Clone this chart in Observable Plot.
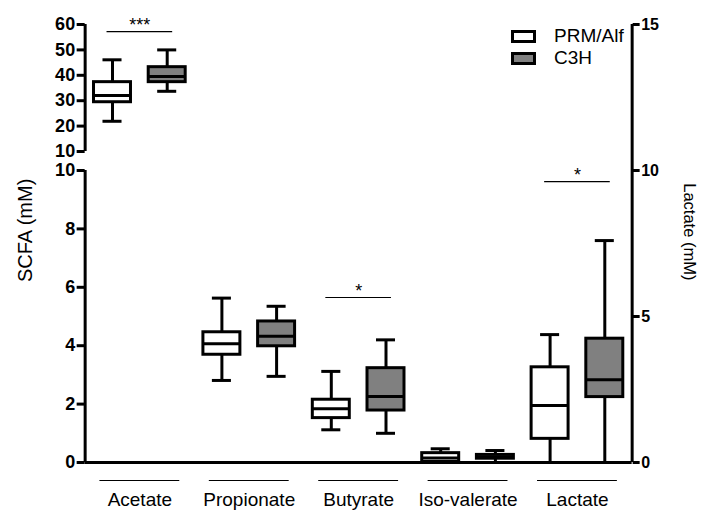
<!DOCTYPE html>
<html>
<head>
<meta charset="utf-8">
<script src="https://cdn.jsdelivr.net/npm/d3@7"></script>
<script src="https://cdn.jsdelivr.net/npm/@observablehq/plot@0.6"></script>
<style>
  html, body { margin: 0; padding: 0; background: #fff; }
  #wrap { position: relative; width: 701px; height: 511px; font-family: "Liberation Sans", Arial, sans-serif; }
  #wrap svg { position: absolute; left: 0; top: 0; }
  .legend { position: absolute; left: 511px; top: 25px; font-size: 19px; color: #000; }
  .legend .row { display: flex; align-items: center; height: 22px; }
  .legend .sw { width: 19px; height: 7px; border: 3px solid #000; margin-right: 18px; }
</style>
</head>
<body>
<div id="wrap"></div>
<script>
// ---- data ----
const categories = ["Acetate", "Propionate", "Butyrate", "Iso-valerate", "Lactate"];
const groups = ["PRM/Alf", "C3H"];
const groupFill = ["#ffffff", "#808080"];

// PRM/Alf box-plot statistics (Acetate on the upper, broken axis)
const prmLow  = [21.9, 2.81, 1.12, 0.00, 0.00];
const prmQ1   = [29.4, 3.69, 1.52, 0.02, 0.81];
const prmMed  = [32.0, 4.07, 1.84, 0.15, 1.95];
const prmQ3   = [37.3, 4.46, 2.15, 0.32, 3.26];
const prmHigh = [46.1, 5.63, 3.12, 0.47, 4.38];

// C3H box-plot statistics
const c3hLow  = [33.7, 2.95, 1.00, 0.00, 0.00];
const c3hQ1   = [37.3, 3.98, 1.78, 0.13, 2.24];
const c3hMed  = [39.5, 4.32, 2.26, 0.19, 2.83];
const c3hQ3   = [43.2, 4.83, 3.23, 0.26, 4.24];
const c3hHigh = [50.0, 5.35, 4.20, 0.41, 7.60];

// significance brackets
const sigCategories = ["Acetate", "Butyrate", "Lactate"];
const sigLabels = ["***", "*", "*"];
const sigLevels = [57.2, 5.65, 9.62];

// axis ticks
const upperTicks = [10, 20, 30, 40, 50, 60];
const lowerTicks = [0, 2, 4, 6, 8, 10];
const lactateTicks = [0, 5, 10, 15];

// ---- build table ----
const stats = [
  [prmLow, prmQ1, prmMed, prmQ3, prmHigh],
  [c3hLow, c3hQ1, c3hMed, c3hQ3, c3hHigh]
];
const rows = [];
categories.forEach((c, ci) => {
  groups.forEach((g, gi) => {
    const s = stats[gi];
    rows.push({cat: c, group: g, i: ci * 2 + gi, fill: groupFill[gi],
      lo: s[0][ci], q1: s[1][ci], med: s[2][ci], q3: s[3][ci], hi: s[4][ci]});
  });
});
const upperRows = rows.filter(d => d.cat === "Acetate");
const lowerRows = rows.filter(d => d.cat !== "Acetate");
const catRows = categories.map((c, ci) => ({cat: c, c: ci * 2 + 0.5}));
const sigRows = sigCategories.map((c, k) => ({cat: c, c: categories.indexOf(c) * 2 + 0.5, label: sigLabels[k], y: sigLevels[k]}));

const W = 701;
const xOpts = {type: "linear", domain: [-0.5, 9.5], axis: null};
const BW = 0.338, CW = 0.174;
const font = "Liberation Sans, Arial, sans-serif";

function boxMarks(data) {
  return [
    Plot.ruleX(data, {x: "i", y1: "lo", y2: "q1", strokeWidth: 3}),
    Plot.ruleX(data, {x: "i", y1: "q3", y2: "hi", strokeWidth: 3}),
    Plot.ruleY(data, {y: "lo", x1: d => d.i - CW, x2: d => d.i + CW, strokeWidth: 3}),
    Plot.ruleY(data, {y: "hi", x1: d => d.i - CW, x2: d => d.i + CW, strokeWidth: 3}),
    Plot.rect(data, {x1: d => d.i - BW, x2: d => d.i + BW, y1: "q1", y2: "q3", fill: "fill", stroke: "#000", strokeWidth: 3}),
    Plot.ruleY(data, {y: "med", x1: d => d.i - BW, x2: d => d.i + BW, strokeWidth: 3})
  ];
}
function sigMarks(data) {
  return [
    Plot.ruleY(data, {y: "y", x1: d => d.c - 0.6, x2: d => d.c + 0.6, strokeWidth: 1.2}),
    Plot.text(data, {x: "c", y: "y", text: "label", dy: -6, fontSize: 18, fontFamily: font})
  ];
}

// ---- lower plot (0-10 SCFA, 0-15 Lactate) ----
const lower = Plot.plot({
  width: W, height: 511,
  marginLeft: 84.65, marginRight: W - 631.65, marginTop: 24, marginBottom: 49,
  style: {background: "transparent", fontFamily: font, overflow: "visible"},
  x: xOpts,
  y: {domain: [0, 15], axis: null},
  marks: [
    Plot.axisY({anchor: "left", ticks: lowerTicks, tickSize: 8, tickPadding: 2, strokeWidth: 3,
      fontSize: 18, fontWeight: "bold", fontFamily: font, label: null}),
    Plot.axisY({anchor: "right", ticks: lactateTicks, tickSize: 7, tickPadding: 2, strokeWidth: 3,
      fontSize: 16, fontWeight: "bold", fontFamily: font, label: null}),
    Plot.ruleX([-0.5], {y1: 0, y2: 10, strokeWidth: 3}),
    Plot.ruleX([9.5], {y1: 0, y2: 15, strokeWidth: 3}),
    ...boxMarks(lowerRows),
    Plot.ruleY([0], {x1: -0.5, x2: 9.5, strokeWidth: 3}),
    ...sigMarks(sigRows.filter(d => d.cat !== "Acetate")),
    Plot.ruleY(catRows, {y: 0, x1: d => d.c - 0.73, x2: d => d.c + 0.73, dy: 18, strokeWidth: 1.2}),
    Plot.text(catRows, {x: "c", y: 0, text: "cat", dy: 37, fontSize: 19, fontFamily: font}),
    Plot.text(["SCFA (mM)"], {x: -0.5, y: 7.95, rotate: -90, dx: -60, fontSize: 20, fontFamily: font}),
    Plot.text(["Lactate (mM)"], {x: 9.5, y: 7.9, rotate: 90, dx: 57, fontSize: 16.5, fontFamily: font})
  ]
});

// ---- upper plot (broken axis 10-60, Acetate) ----
const upper = Plot.plot({
  width: W, height: 165,
  marginLeft: 84.65, marginRight: W - 631.65, marginTop: 24, marginBottom: 14,
  style: {background: "transparent", fontFamily: font, overflow: "visible"},
  x: xOpts,
  y: {domain: [10, 60], axis: null},
  marks: [
    Plot.axisY({anchor: "left", ticks: upperTicks, tickSize: 8, tickPadding: 2, strokeWidth: 3,
      fontSize: 18, fontWeight: "bold", fontFamily: font, label: null}),
    Plot.ruleX([-0.5], {y1: 10, y2: 60, strokeWidth: 3}),
    ...boxMarks(upperRows),
    ...sigMarks(sigRows.filter(d => d.cat === "Acetate"))
  ]
});

const wrap = document.getElementById("wrap");
wrap.appendChild(lower);
wrap.appendChild(upper);

// legend
const legend = document.createElement("div");
legend.className = "legend";
groups.forEach((g, gi) => {
  const row = document.createElement("div");
  row.className = "row";
  const sw = document.createElement("span");
  sw.className = "sw";
  sw.style.background = groupFill[gi];
  const t = document.createElement("span");
  t.textContent = g;
  row.appendChild(sw); row.appendChild(t);
  legend.appendChild(row);
});
wrap.appendChild(legend);
</script>
</body>
</html>
